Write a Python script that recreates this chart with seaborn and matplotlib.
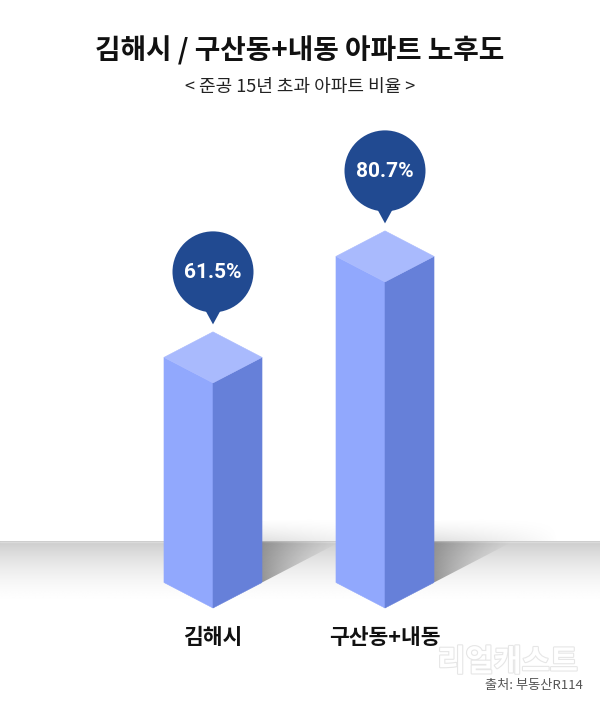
import numpy as np
import pandas as pd
import matplotlib
matplotlib.use("Agg")
import matplotlib.pyplot as plt
import seaborn as sns
from matplotlib.patches import Polygon, Circle
import matplotlib.patheffects as pe

# ---------------- data ----------------
categories = ["김해시", "구산동+내동"]
values = [61.5, 80.7]
value_labels = ["61.5%", "80.7%"]
title = "김해시 / 구산동+내동 아파트 노후도"
subtitle = "< 준공 15년 초과 아파트 비율 >"
source = "출처: 부동산R114"
watermark = "리얼캐스트"

# ---------------- style ----------------
sns.set_theme(style="white")
plt.rcParams['font.family'] = ['Noto Sans CJK KR', 'DejaVu Sans']

C_TOP = "#A9BAFD"
C_LEFT = "#91A8FD"
C_RIGHT = "#6680D9"
C_BUBBLE = "#214A91"

W, H = 600, 712
fig = plt.figure(figsize=(W / 100, H / 100), dpi=100)
fig.patch.set_facecolor("white")

# background (pixel coordinates) axes
bg = fig.add_axes([0, 0, 1, 1], zorder=0)
bg.set_xlim(0, W)
bg.set_ylim(H, 0)
bg.axis("off")

# data axes
BASE, YTOP = 18.7, 100.0
PX_PER_UNIT = 5.26
ax_h = (YTOP - BASE) * PX_PER_UNIT
ax = fig.add_axes([127 / W, (H - 608) / H, 344 / W, ax_h / H], zorder=1)
ax.patch.set_alpha(0)

df = pd.DataFrame({"region": categories, "ratio": values})
sns.barplot(data=df, x="region", y="ratio", ax=ax, width=0.57, color=C_LEFT)
ax.set_xlim(-0.5, 1.5)
ax.set_ylim(BASE, YTOP)
ax.axis("off")

# overlay axes for callouts and text
ov = fig.add_axes([0, 0, 1, 1], zorder=2)
ov.set_xlim(0, W)
ov.set_ylim(H, 0)
ov.axis("off")
ov.patch.set_alpha(0)

rects = [(p.get_x(), p.get_width(), p.get_height()) for p in list(ax.patches)]
for p in list(ax.patches):
    p.remove()


def to_px(x, y):
    dd = ax.transData.transform((x, y))
    return dd[0], H - dd[1]


def dy_data(px):
    p0 = ax.transData.transform((0, BASE))
    return ax.transData.inverted().transform((p0[0], p0[1] + px))[1] - BASE


ISO = 25.5
d = dy_data(ISO)

# ---------------- floor ----------------
FLOOR_Y = 541.5
FLOOR_END = 606
t = np.linspace(0, 1, 200)
g = 0.80 + (1 - 0.80) * (1 - (1 - t) ** 1.8)
grad = np.repeat(g[:, None], 2, axis=1)
bg.imshow(grad, cmap="gray", vmin=0, vmax=1, extent=[0, W, FLOOR_END, FLOOR_Y],
          aspect="auto", interpolation="bilinear", zorder=1)
bg.plot([0, W], [FLOOR_Y, FLOOR_Y], color="#DADADA", lw=1, zorder=2)

# shadows
nx, ny = 120, 60
XX, YY = np.meshgrid(np.linspace(0, 1, nx), np.linspace(0, 1, ny))
for (x, w, v) in rects:
    xr_px, _ = to_px(x + w, BASE)
    y_corner = to_px(x + w, BASE + d)[1]
    run = (y_corner - FLOOR_Y) * 49 / ISO
    # floor shadow
    poly = Polygon([(xr_px, FLOOR_Y), (xr_px, y_corner), (xr_px + run, FLOOR_Y)],
                   closed=True, facecolor="none", edgecolor="none")
    bg.add_patch(poly)
    rgba = np.zeros((ny, nx, 4))
    rgba[..., 3] = 0.40 * (1 - XX) ** 1.3 * (0.75 + 0.25 * YY)
    im = bg.imshow(rgba, extent=[xr_px, xr_px + run, y_corner, FLOOR_Y],
                   aspect="auto", interpolation="bilinear", zorder=3)
    im.set_clip_path(poly)
    # wall shadow
    wpoly = Polygon([(xr_px, FLOOR_Y), (xr_px, 521), (xr_px + 120, 517), (xr_px + 125, FLOOR_Y)],
                    closed=True, facecolor="none", edgecolor="none")
    bg.add_patch(wpoly)
    rgba2 = np.zeros((ny, nx, 4))
    rgba2[..., 3] = 0.12 * YY ** 1.5 * (1 - XX) ** 0.8
    im2 = bg.imshow(rgba2, extent=[xr_px, xr_px + 125, FLOOR_Y, 517],
                    aspect="auto", interpolation="bilinear", zorder=3)
    im2.set_clip_path(wpoly)

# ---------------- 3D bars ----------------
for (x, w, v) in rects:
    xl, xc, xr = x, x + w / 2, x + w
    left = [(xl, BASE + d), (xc, BASE), (xc, v), (xl, v + d)]
    right = [(xc, BASE), (xr, BASE + d), (xr, v + d), (xc, v)]
    top = [(xl, v + d), (xc, v), (xr, v + d), (xc, v + 2 * d)]
    for pts, col in ((left, C_LEFT), (right, C_RIGHT), (top, C_TOP)):
        ax.add_patch(Polygon(pts, closed=True, facecolor=col, edgecolor=col,
                             lw=0.4, clip_on=False, zorder=3))

# ---------------- callouts ----------------
R = 40.5
for (x, w, v), lab in zip(rects, value_labels):
    cx, apex_y = to_px(x + w / 2, v + 2 * d)
    tip = apex_y - 7.5
    cy = tip - 52.5
    ov.add_patch(Circle((cx, cy), R, facecolor=C_BUBBLE, edgecolor="none", zorder=3))
    ov.add_patch(Polygon([(cx - 9, cy + 36), (cx + 9, cy + 36), (cx, tip)], closed=True,
                         facecolor=C_BUBBLE, edgecolor="none", zorder=3))
    ov.text(cx, cy + 1, lab, color="white", fontsize=15, fontweight="bold",
            family=["Roboto", "DejaVu Sans"], ha="center", va="center", zorder=4)

# ---------------- category labels ----------------
for (x, w, v), cat in zip(rects, categories):
    cx, _ = to_px(x + w / 2, BASE)
    ov.text(cx, 637, cat, color="#111111", fontsize=15.5, fontweight="bold",
            ha="center", va="center", zorder=4)

# ---------------- titles / source ----------------
ov.text(W / 2, 51, title, color="#111111", fontsize=20, fontweight="bold",
        ha="center", va="center")
ov.text(W / 2, 87, subtitle, color="#222222", fontsize=13,
        ha="center", va="center")
ov.text(578, 662, watermark, color="#FFFFFF", fontsize=22, fontweight="bold",
        ha="right", va="center", zorder=1,
        path_effects=[pe.withStroke(linewidth=1.6, foreground="#E6E6E6")])
ov.text(583, 686, source, color="#555555", fontsize=9.5,
        ha="right", va="center", zorder=5)

fig.savefig("out.png", dpi=100, facecolor="white")
